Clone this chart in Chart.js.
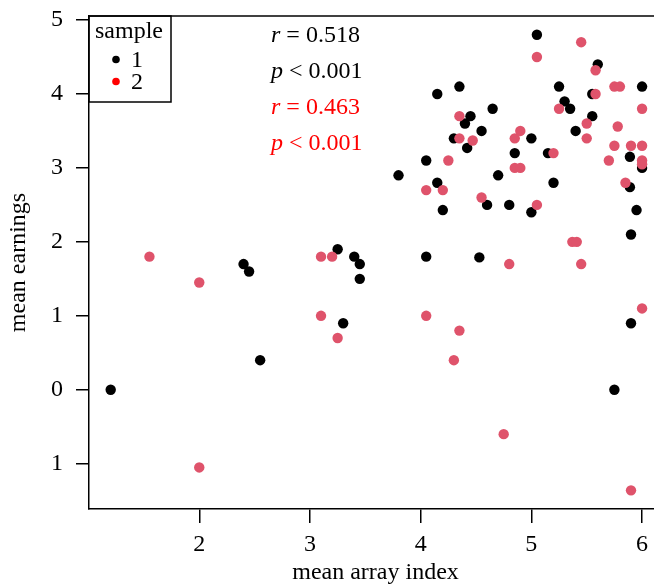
<!DOCTYPE html>
<html><head><meta charset="utf-8">
<script src="https://cdn.jsdelivr.net/npm/chart.js@4/dist/chart.umd.min.js"></script>
<style>
html,body{margin:0;padding:0;overflow:hidden;background:#fff;width:654px;height:587px}
canvas{display:block}
</style></head>
<body><canvas id="c" width="672" height="587"></canvas>
<script>
// ---- data ----
const sample1X = [1.2, 2.4, 2.45, 2.55, 3.25, 3.4, 3.45, 3.45, 3.3, 3.8, 4.05, 4.05, 4.15, 4.15, 4.2, 4.3, 4.35, 4.4, 4.42, 4.45, 4.53, 4.55, 4.6, 4.65, 4.7, 4.8, 4.85, 5.0, 5.0, 5.05, 5.15, 5.2, 5.25, 5.3, 5.35, 5.4, 5.55, 5.55, 5.6, 5.75, 5.89, 5.89, 5.9, 5.9, 5.95, 6.0, 6.0];
const sample1Y = [0, 1.7, 1.6, 0.4, 1.9, 1.8, 1.7, 1.5, 0.9, 2.9, 3.1, 1.8, 4.0, 2.8, 2.43, 3.4, 4.1, 3.6, 3.27, 3.7, 1.79, 3.5, 2.5, 3.8, 2.9, 2.5, 3.2, 3.4, 2.4, 4.8, 3.2, 2.8, 4.1, 3.9, 3.8, 3.5, 4.0, 3.7, 4.4, 0, 3.15, 2.74, 2.1, 0.9, 2.43, 4.1, 3.0];
const sample2X = [1.55, 2.0, 2.0, 3.1, 3.2, 3.1, 3.25, 4.05, 4.05, 4.2, 4.25, 4.3, 4.35, 4.35, 4.35, 4.47, 4.55, 4.75, 4.8, 4.85, 4.85, 4.9, 4.9, 5.05, 5.05, 5.2, 5.25, 5.37, 5.41, 5.45, 5.45, 5.5, 5.5, 5.58, 5.58, 5.7, 5.75, 5.8, 5.75, 5.78, 5.85, 5.9, 5.9, 6.0, 6.0, 6.0, 6.0, 6.0];
const sample2Y = [1.8, 1.45, -1.05, 1.8, 1.8, 1.0, 0.7, 2.7, 1.0, 2.7, 3.1, 0.4, 3.7, 3.4, 0.8, 3.37, 2.6, -0.6, 1.7, 3.4, 3.0, 3.0, 3.5, 4.5, 2.5, 3.2, 3.8, 2.0, 2.0, 4.7, 1.7, 3.6, 3.4, 4.32, 4.0, 3.1, 4.1, 4.1, 3.3, 3.56, 2.8, 3.3, -1.36, 3.8, 3.3, 3.1, 3.05, 1.1];
const xTicks = [2, 3, 4, 5, 6];
const yTicks = [-1, 0, 1, 2, 3, 4, 5];
const yTickLabels = ['1', '0', '1', '2', '3', '4', '5'];
const seriesNames = ['1', '2'];
const legendTitle = 'sample';
const statSymbols = ['r', 'p', 'r', 'p'];
const statOps = ['=', '<', '=', '<'];
const statValues = ['0.518', '0.001', '0.463', '0.001'];
const xTitle = 'mean array index';
const yTitle = 'mean earnings';

// ---- styling ----
const FONT = '"Liberation Serif", "Times New Roman", serif';
const FS = 24;
const BLACK = '#000000';
const PINK = '#DF536B';
const RED = '#FF0000';
const statColors = [BLACK, BLACK, RED, RED];

function toPoints(xs, ys) { return xs.map((x, i) => ({x: x, y: ys[i]})); }

const decor = {
  id: 'decor',
  afterDraw(chart) {
    const ctx = chart.ctx;
    const a = chart.chartArea;
    ctx.save();
    // top frame line
    ctx.strokeStyle = BLACK; ctx.lineWidth = 1.5;
    ctx.beginPath(); ctx.moveTo(a.left, a.top); ctx.lineTo(a.right, a.top); ctx.stroke();
    // legend box
    const lx = a.left, ly = a.top, lw = 82, lh = 86;
    ctx.strokeRect(lx, ly, lw, lh);
    ctx.fillStyle = BLACK;
    ctx.textBaseline = 'alphabetic';
    ctx.textAlign = 'left';
    ctx.font = FS + 'px ' + FONT;
    ctx.fillText(legendTitle, lx + 6, ly + 21.5);
    const legendColors = [BLACK, RED];
    seriesNames.forEach((n, i) => {
      const cy = ly + 43.5 + i * 22;
      ctx.fillStyle = legendColors[i];
      ctx.beginPath(); ctx.arc(lx + 27, cy, 3.8, 0, Math.PI * 2); ctx.fill();
      ctx.fillStyle = BLACK;
      ctx.fillText(n, lx + 42, cy + 7);
    });
    // statistics
    statSymbols.forEach((s, i) => {
      const x = 271, y = 42 + i * 36;
      ctx.fillStyle = statColors[i];
      ctx.font = 'italic ' + FS + 'px ' + FONT;
      ctx.fillText(s, x, y);
      const w = ctx.measureText(s).width;
      ctx.font = FS + 'px ' + FONT;
      ctx.fillText(' ' + statOps[i] + ' ' + statValues[i], x + w, y);
    });
    ctx.restore();
  }
};

new Chart(document.getElementById('c'), {
  type: 'scatter',
  data: {
    datasets: [
      { label: seriesNames[0], data: toPoints(sample1X, sample1Y), backgroundColor: BLACK, pointRadius: 5.2, pointBorderWidth: 0, pointHoverRadius: 5.2, order: 2 },
      { label: seriesNames[1], data: toPoints(sample2X, sample2Y), backgroundColor: PINK, pointRadius: 5.2, pointBorderWidth: 0, pointHoverRadius: 5.2, order: 1 }
    ]
  },
  options: {
    responsive: false,
    animation: false,
    devicePixelRatio: 1,
    layout: { padding: { top: 16, right: 10, left: 0, bottom: 0 } },
    plugins: { legend: { display: false }, tooltip: { enabled: false } },
    scales: {
      x: {
        type: 'linear', position: 'bottom', min: 1.004, max: 6.18,
        afterBuildTicks: s => { s.ticks = xTicks.map(v => ({ value: v })); },
        afterFit: s => { s.height = 78; s.paddingLeft = 0; s.paddingRight = 0; },
        ticks: { color: BLACK, font: { family: FONT, size: FS }, padding: 7, maxRotation: 0, autoSkip: false },
        grid: { drawOnChartArea: false, drawTicks: true, tickLength: 14, color: BLACK, lineWidth: 1.5 },
        border: { display: true, color: BLACK, width: 1.5 },
        title: { display: true, text: xTitle, color: BLACK, font: { family: FONT, size: FS }, padding: { top: 0, bottom: 0 } }
      },
      y: {
        type: 'linear', position: 'left', min: -1.612, max: 5.054,
        afterBuildTicks: s => { s.ticks = yTicks.map(v => ({ value: v })); },
        afterFit: s => { s.width = 89; s.paddingTop = 0; s.paddingBottom = 0; },
        ticks: { color: BLACK, font: { family: FONT, size: FS }, padding: 13, autoSkip: false,
                 callback: v => yTickLabels[yTicks.indexOf(v)] },
        grid: { drawOnChartArea: false, drawTicks: true, tickLength: 13, color: BLACK, lineWidth: 1.5 },
        border: { display: true, color: BLACK, width: 1.5 },
        title: { display: true, text: yTitle, color: BLACK, font: { family: FONT, size: FS }, padding: { top: 4, bottom: 0 } }
      }
    }
  },
  plugins: [decor]
});
</script>
</body></html>
